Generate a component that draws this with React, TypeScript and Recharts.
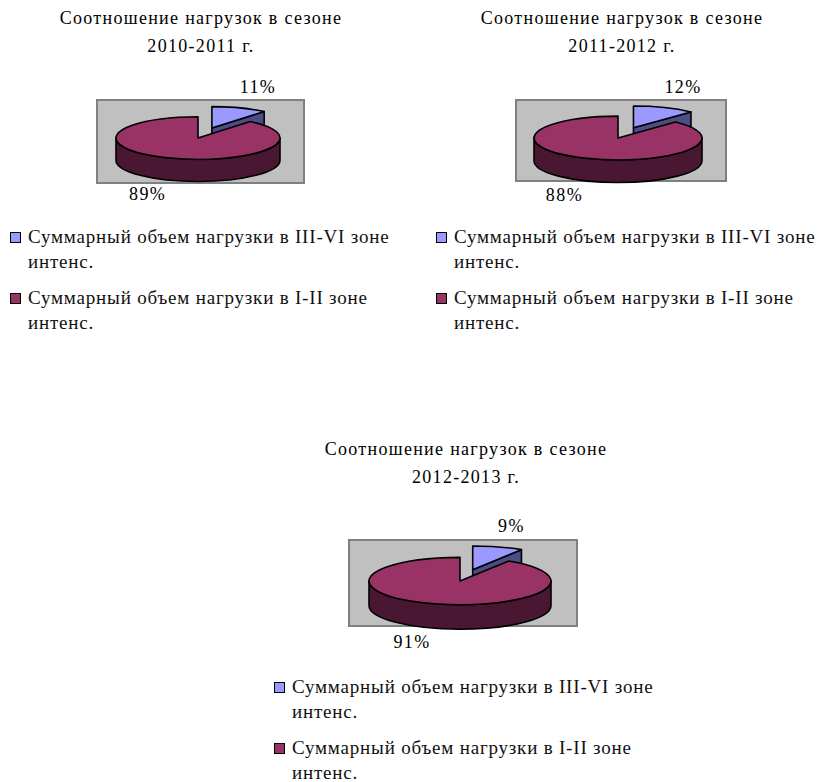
import React from 'react';
import { PieChart, Pie, Cell } from 'recharts';

// --- data ---
const seasons = ['2010-2011', '2011-2012', '2012-2013'];
const seriesNames = [
  'Суммарный объем нагрузки в III-VI зоне интенс.',
  'Суммарный объем нагрузки в I-II зоне интенс.',
];
const zone3to6 = [11, 12, 9];
const zone1to2 = [89, 88, 91];

const topColors = ['#9999ff', '#993366'];
const sideColors = ['#4d4d85', '#4a1732'];

// --- layout (page coordinates) ---
const panels = [
  { titleX: 201, titleY: 4, box: { x: 96, y: 99, w: 209, h: 85 }, frame: { x: 86, y: 64, w: 240, h: 145 }, cx: 193, cy: 133, r: 82, legend: { x: 10, y: 224 } },
  { titleX: 622, titleY: 4, box: { x: 515, y: 99, w: 212, h: 83 }, frame: { x: 505, y: 64, w: 240, h: 145 }, cx: 613, cy: 133, r: 84, legend: { x: 436, y: 224 } },
  { titleX: 466, titleY: 435, box: { x: 348, y: 539, w: 230, h: 88 }, frame: { x: 338, y: 500, w: 260, h: 160 }, cx: 455, cy: 576, r: 91, legend: { x: 274, y: 674 } },
];

const TILT = 0.26;
const DEPTH = 0.27;
const EXPLODE = 0.5;
const FONT = '"Liberation Serif", "Times New Roman", serif';
const rad = Math.PI / 180;

// 3D-ish elliptical slice, built from the sector geometry recharts gives us
const Slice3D = (props: any) => {
  const { cx, cy, outerRadius, startAngle, endAngle, index } = props;
  const rx = outerRadius;
  const ry = outerRadius * TILT;
  const d = outerRadius * DEPTH;
  const a0 = Math.max(startAngle, endAngle);
  const a1 = Math.min(startAngle, endAngle);
  let ox = 0;
  let oy = 0;
  if (index === 0) {
    const mid = (a0 + a1) / 2;
    ox = EXPLODE * rx * Math.cos(mid * rad);
    oy = -EXPLODE * rx * Math.sin(mid * rad) * TILT;
  }
  const x0 = cx + ox;
  const y0 = cy + oy;
  const P = (t: number, dy = 0) => `${x0 + rx * Math.cos(t * rad)},${y0 - ry * Math.sin(t * rad) + dy}`;
  const idx = index ?? 0;
  const side = sideColors[idx % sideColors.length];
  const top = props.fill;
  const strokeProps = { stroke: '#000', strokeWidth: 1.6, strokeLinejoin: 'round' as const };

  const faces: React.ReactNode[] = [];
  // radial cut faces
  if (Math.cos(a0 * rad) < -1e-6) {
    faces.push(<path key="f0" d={`M${x0},${y0} L${P(a0)} L${P(a0, d)} L${x0},${y0 + d} Z`} fill={side} {...strokeProps} />);
  }
  if (Math.cos(a1 * rad) > 1e-6) {
    faces.push(<path key="f1" d={`M${x0},${y0} L${P(a1)} L${P(a1, d)} L${x0},${y0 + d} Z`} fill={side} {...strokeProps} />);
  }
  // outer wall, front half only
  for (let k = -2; k <= 2; k++) {
    const s = Math.max(a1, -180 + 360 * k);
    const e = Math.min(a0, 360 * k);
    if (e - s > 0.01) {
      faces.push(
        <path
          key={`w${k}`}
          d={`M${P(e)} A${rx},${ry} 0 0 1 ${P(s)} L${P(s, d)} A${rx},${ry} 0 0 0 ${P(e, d)} Z`}
          fill={side}
          {...strokeProps}
        />
      );
    }
  }
  const large = a0 - a1 > 180 ? 1 : 0;
  const topPath = a0 - a1 >= 359.99
    ? `M${P(0)} A${rx},${ry} 0 1 1 ${P(180)} A${rx},${ry} 0 1 1 ${P(0)} Z`
    : `M${x0},${y0} L${P(a0)} A${rx},${ry} 0 ${large} 1 ${P(a1)} Z`;
  return (
    <g>
      {faces}
      <path d={topPath} fill={top} {...strokeProps} />
    </g>
  );
};

const renderLabel = (props: any) => {
  const { cx, cy, midAngle, outerRadius, index, value } = props;
  const c = Math.cos(midAngle * rad);
  const s = Math.sin(midAngle * rad);
  let ex = cx + outerRadius * c;
  let ey = cy - outerRadius * TILT * s;
  if (s < 0) ey += outerRadius * DEPTH;
  if (index === 0) {
    ex += EXPLODE * outerRadius * c;
    ey -= EXPLODE * outerRadius * s * TILT;
  }
  return (
    <text
      x={ex + (c >= 0 ? 0 : -4)}
      y={ey + (s >= 0 ? -21 : 14)}
      textAnchor={c >= 0 ? 'start' : 'end'}
      dominantBaseline="central"
      fill="#000"
      fontSize={18}
      letterSpacing={1.4}
      fontFamily={FONT}
    >
      {value}%
    </text>
  );
};

const Panel = ({ i }: { i: number }) => {
  const p = panels[i];
  const data = [
    { name: seriesNames[0], value: zone3to6[i] },
    { name: seriesNames[1], value: zone1to2[i] },
  ];
  return (
    <>
      <div
        style={{
          position: 'absolute', left: p.titleX - 200, top: p.titleY, width: 400,
          textAlign: 'center', fontFamily: FONT, fontSize: 18, letterSpacing: 1.3, lineHeight: '28px', color: '#000',
        }}
      >
        Соотношение нагрузок в сезоне<br />{seasons[i]} г.
      </div>
      <div
        style={{
          position: 'absolute', left: p.box.x, top: p.box.y, width: p.box.w - 4, height: p.box.h - 4,
          background: '#c0c0c0', border: '2px solid #808080',
        }}
      />
      <div style={{ position: 'absolute', left: p.frame.x, top: p.frame.y }}>
        <PieChart width={p.frame.w} height={p.frame.h}>
          <Pie
            data={data}
            dataKey="value"
            cx={p.cx - p.frame.x}
            cy={p.cy - p.frame.y}
            outerRadius={p.r}
            startAngle={90}
            endAngle={-270}
            stroke="none"
            shape={Slice3D}
            label={renderLabel}
            labelLine={false}
            isAnimationActive={false}
          >
            {data.map((_, k) => (
              <Cell key={k} fill={topColors[k]} />
            ))}
          </Pie>
        </PieChart>
      </div>
      <div style={{ position: 'absolute', left: p.legend.x, top: p.legend.y, fontFamily: FONT, fontSize: 19, letterSpacing: 0.8, lineHeight: '25px', color: '#111' }}>
        {seriesNames.map((name, k) => (
          <div key={k} style={{ display: 'flex', alignItems: 'flex-start', marginBottom: 11 }}>
            <span
              style={{
                display: 'inline-block', width: 9, height: 9, marginTop: 8, marginRight: 7,
                background: topColors[k], border: '1px solid #000', flex: 'none',
              }}
            />
            <span style={{ width: 372 }}>{name}</span>
          </div>
        ))}
      </div>
    </>
  );
};

export default function App() {
  return (
    <div style={{ position: 'absolute', left: 0, top: 0, width: 821, height: 782, background: '#fff', overflow: 'hidden' }}>
      {panels.map((_, i) => (
        <Panel key={i} i={i} />
      ))}
    </div>
  );
}
